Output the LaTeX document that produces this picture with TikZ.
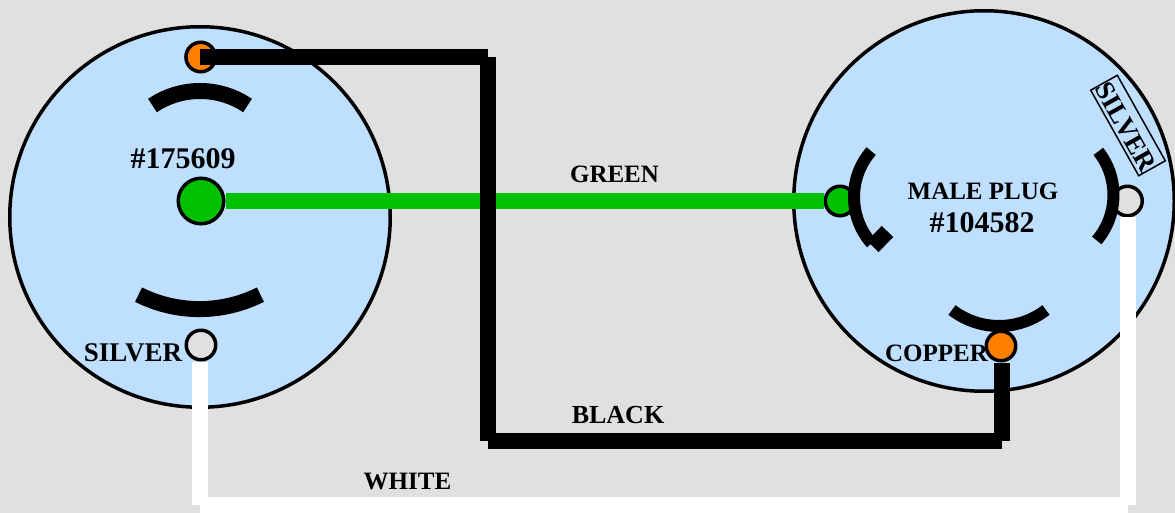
\documentclass[tikz,border=0pt]{standalone}
\usepackage{fontspec}
\setmainfont{Liberation Serif}
\definecolor{panelgray}{HTML}{E0E0E0}
\definecolor{plugblue}{HTML}{BFDFFF}
\definecolor{wiregreen}{HTML}{00C000}
\definecolor{termorange}{HTML}{FF8000}
\tikzstyle{plugface}=[draw, circle, fill=plugblue, line width=3.5pt, minimum size=380.5pt, inner sep=0pt]
\tikzstyle{terminal}=[draw, circle, line width=3.5pt, minimum size=29.5pt, inner sep=0pt]
\tikzstyle{label}=[font=\bfseries\fontsize{25}{25}\selectfont, anchor=base, inner sep=0pt, text=black]
\tikzstyle{biglabel}=[label, font=\bfseries\fontsize{30}{30}\selectfont]
\tikzstyle{wire}=[line width=16pt, line cap=butt]
\tikzstyle{blade}=[line width=12pt, line cap=butt]
\tikzstyle{wideblade}=[line width=16pt, line cap=butt]
\begin{document}
\begin{tikzpicture}[x=1pt, y=-1pt]
\useasboundingbox (0,0) rectangle (1175,513);
\fill[panelgray] (0,0) rectangle (1175,513);

% Draw the two plug faces
\node (socket) [plugface] at (200,217) {};
\node (plug) [plugface] at (984,201) {};

% Draw terminals
\node (ttop) [terminal, fill=termorange] at (200.7,57) {};
\node (tground) [terminal, fill=wiregreen, minimum size=45.5pt] at (201,201) {};
\node (tsilver) [terminal, fill=panelgray] at (201,345) {};
\node (pground) [terminal, fill=wiregreen] at (840,201) {};
\node (psilver) [terminal, fill=panelgray] at (1127.5,201) {};

% Socket blades
\coordinate (stop) at (200,176);
\coordinate (sbot) at (199.5,173.5);
\draw[wideblade] ([shift={(56:85pt)}]stop) arc[start angle=56, end angle=124, radius=85pt];
\draw[wideblade] ([shift={(-116.7:135.6pt)}]sbot) arc[start angle=-116.7, end angle=-63.3, radius=135.6pt];

% Plug blades
\coordinate (pleft) at (924,197);
\coordinate (pright) at (1043.5,195);
\coordinate (pbot) at (999,249);
\coordinate (ptick1) at (887.5,231.5);
\coordinate (ptick2) at (872.8,246.5);
\draw[blade] ([shift={(139:70pt)}]pleft) arc[start angle=139, end angle=221.5, radius=70pt];
\draw[wideblade] (ptick1) -- (ptick2);
\draw[blade] ([shift={(38.5:70pt)}]pright) arc[start angle=38.5, end angle=-40.5, radius=70pt];
\draw[blade] ([shift={(-127.6:77pt)}]pbot) arc[start angle=-127.6, end angle=-52.4, radius=77pt];

% Draw wires
\coordinate (bk0) at (200,57);
\coordinate (bk1) at (488,57);
\coordinate (bk2) at (488,441);
\coordinate (bk3) at (1002,441);
\coordinate (wt1) at (200,505);
\coordinate (wt2) at (1128,505);
\node (tcopper) [terminal, fill=termorange] at (1001,346) {};
\draw[wire, wiregreen] (tground.east) -- (pground.west);
\draw[wire] (bk0) -- (bk1);
\draw[wire] (bk1) -- (bk2);
\draw[wire] (bk2) -- (bk3);
\draw[wire] (bk3) -- (bk3 |- tcopper.south);
\draw[wire, white] (wt1 |- tsilver.south) -- (wt1);
\draw[wire, white] (wt1) -- (wt2);
\draw[wire, white] (wt2) -- (wt2 |- psilver.south);

% Labels
\node (lmodel) [biglabel] at (183,169) {\#175609};
\node (lsilver) [label, font=\bfseries\fontsize{27}{27}\selectfont] at (133,361) {SILVER};
\node (lgreen) [label] at (614.5,183) {GREEN};
\node (lblack) [label, font=\bfseries\fontsize{26}{26}\selectfont] at (618,423) {BLACK};
\node (lwhite) [label] at (407.5,489) {WHITE};
\node (lmale) [label] at (983,200) {MALE PLUG};
\node (lnum) [biglabel] at (982,233) {\#104582};
\node (lcopper) [label] at (936.5,361) {COPPER};
\node (lsilvertag) [draw, line width=1.5pt, rotate=-60.7, font=\bfseries\fontsize{27}{27}\selectfont, inner sep=0pt, minimum width=98pt, text height=26.5pt, text depth=4pt, align=center] at (1128,125.5) {SILVER};
\end{tikzpicture}
\end{document}
